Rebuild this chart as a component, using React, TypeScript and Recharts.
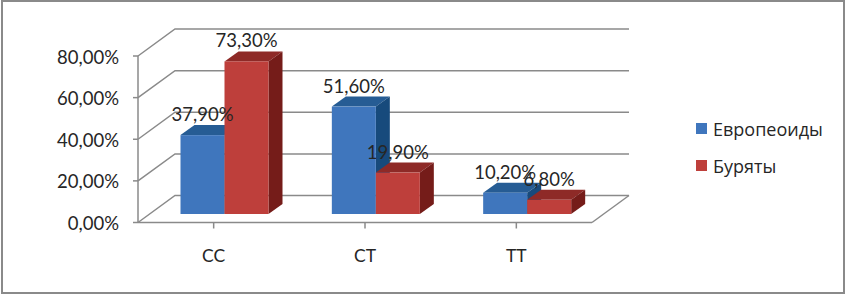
import { Bar, BarChart, CartesianGrid, LabelList, Legend, XAxis, YAxis } from 'recharts';

const categories = ['CC', 'CT', 'TT'];
const europeans = [37.9, 51.6, 10.2];
const buryats = [73.3, 19.9, 6.8];
const yTicks = [0, 20, 40, 60, 80];

const data = categories.map((name, i) => ({ name, europeans: europeans[i], buryats: buryats[i] }));

const FONT = 'Lato, "Open Sans", sans-serif';
const TEXT = '#262626';
const AXIS = '#8a8a8a';

// fake 3d: back wall offset and bar depth
const WALL_X = 37;
const WALL_Y = 27;
const PLANE_X = 10.5;
const PLANE_Y = 8.5;
const DEPTH_X = 14;
const DEPTH_Y = 10;

const pct = (v: number) => `${v.toFixed(2).replace('.', ',')}%`;

function wallLine(props: any) {
    const { x1, x2, y1, index } = props;
    const back = y1 - WALL_Y;
    const isFloor = y1 > 200;
    return (
        <g key={`wall-${index}`} fill="none" stroke={AXIS} strokeWidth={1.5}>
            <polyline points={`${x1},${y1} ${x1 + WALL_X},${back} ${x2 + WALL_X},${back}`} />
            {isFloor && <line x1={x2} y1={y1} x2={x2 + WALL_X} y2={back} />}
        </g>
    );
}

function box(front: string, top: string, side: string) {
    return (props: any) => {
        const x = props.x + PLANE_X;
        const y = props.y - PLANE_Y;
        const w = props.width;
        const h = props.height;
        return (
            <g>
                <polygon
                    points={`${x},${y} ${x + DEPTH_X},${y - DEPTH_Y} ${x + w + DEPTH_X},${y - DEPTH_Y} ${x + w},${y}`}
                    fill={top}
                />
                <polygon
                    points={`${x + w},${y} ${x + w + DEPTH_X},${y - DEPTH_Y} ${x + w + DEPTH_X},${y + h - DEPTH_Y} ${x + w},${y + h}`}
                    fill={side}
                />
                <rect x={x} y={y} width={w} height={h} fill={front} />
            </g>
        );
    };
}

function barLabel(props: any) {
    const { x, y, width, value } = props;
    return (
        <text
            x={x + PLANE_X + width / 2}
            y={y - PLANE_Y - 14}
            textAnchor="middle"
            fontFamily={FONT}
            fontSize={18.5}
            fill={TEXT}
        >
            {pct(value)}
        </text>
    );
}

function legendContent({ payload }: any) {
    return (
        <div style={{ fontFamily: '"Open Sans", sans-serif', fontSize: 18, color: TEXT }}>
            {payload.map((item: any) => (
                <div key={item.value} style={{ display: 'flex', alignItems: 'center', height: 37 }}>
                    <span style={{ width: 11, height: 11, background: item.color, marginRight: 6 }} />
                    {item.value}
                </div>
            ))}
        </div>
    );
}

export default function App() {
    return (
        <div style={{ position: 'absolute', left: 0, top: 0, width: 846, height: 294, background: '#fff' }}>
            <div
                style={{
                    position: 'absolute',
                    left: 1,
                    top: 0,
                    width: 844,
                    height: 294,
                    boxSizing: 'border-box',
                    border: '2px solid #8a8a8a',
                }}
            />
            <BarChart
                width={846}
                height={294}
                data={data}
                margin={{ top: 56, right: 114, bottom: 31.5, left: 78 }}
                barCategoryGap={32}
                barGap={0}
            >
                <CartesianGrid vertical={false} horizontal={wallLine} />
                <XAxis
                    dataKey="name"
                    height={40}
                    stroke={AXIS}
                    strokeWidth={1.5}
                    tickSize={6}
                    tickMargin={21}
                    tick={{ fill: TEXT, fontSize: 17.5, fontFamily: FONT }}
                />
                <YAxis
                    width={60}
                    domain={[0, 80]}
                    ticks={yTicks}
                    stroke={AXIS}
                    strokeWidth={1.5}
                    tickSize={5}
                    tickMargin={14}
                    tickFormatter={pct}
                    tick={{ fill: TEXT, fontSize: 18.5, fontFamily: FONT, dy: 1 }}
                />
                <Legend
                    layout="vertical"
                    align="right"
                    verticalAlign="top"
                    itemSorter={null}
                    wrapperStyle={{ left: 696, top: 110, width: 140 }}
                    content={legendContent}
                />
                <Bar
                    dataKey="europeans"
                    name="Европеоиды"
                    fill="#3f76bd"
                    isAnimationActive={false}
                    shape={box('#3f76bd', '#265c94', '#174a7c')}
                >
                    <LabelList dataKey="europeans" content={barLabel} />
                </Bar>
                <Bar
                    dataKey="buryats"
                    name="Буряты"
                    fill="#be3f3b"
                    isAnimationActive={false}
                    shape={box('#be3f3b', '#8e2a27', '#751c19')}
                >
                    <LabelList dataKey="buryats" content={barLabel} />
                </Bar>
            </BarChart>
        </div>
    );
}
